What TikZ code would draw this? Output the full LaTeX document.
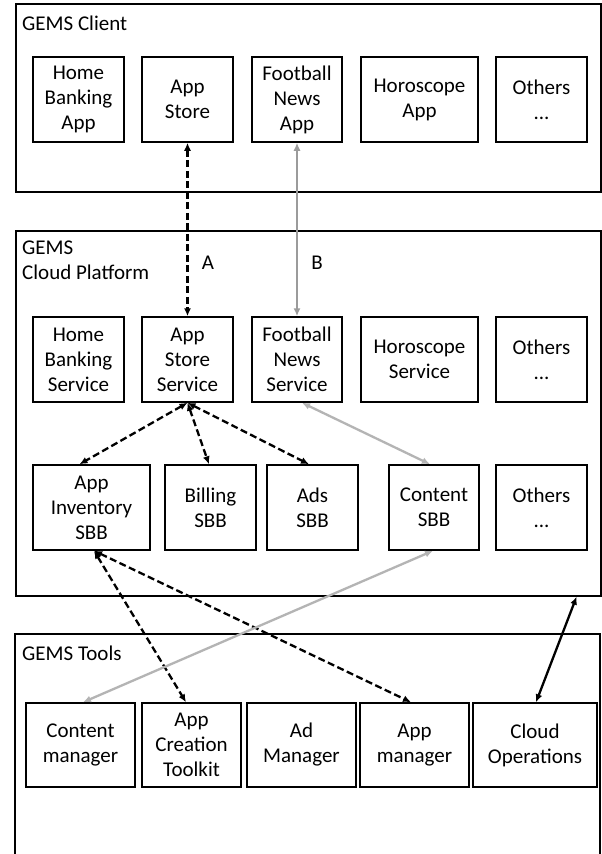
\documentclass[tikz,border=0pt]{standalone}
\usepackage{fontspec}
\setmainfont{Carlito}
\usetikzlibrary{arrows.meta,calc}
\definecolor{lgray}{RGB}{180,180,180}
\definecolor{mgray}{RGB}{155,155,155}
\begin{document}
\begin{tikzpicture}[x=1pt,y=-1pt,
  txt/.style={font=\fontsize{21}{25}\selectfont},
  box/.style={draw,line width=1.5pt,align=center,inner sep=0pt,txt},
  frame/.style={draw,line width=1.6pt,inner sep=0pt},
  dashconn/.style={line width=2.3pt,dash pattern=on 7pt off 3.5pt,{Latex[length=8pt,width=7pt]}-{Latex[length=8pt,width=7pt]}},
  grayconn/.style={line width=2.3pt,lgray,{Latex[length=8pt,width=7pt]}-{Latex[length=8pt,width=7pt]}},
  blackconn/.style={line width=2.3pt,{Latex[length=8pt,width=7pt]}-{Latex[length=8pt,width=7pt]}}]
\useasboundingbox (0,0) rectangle (602,854);
\fill[white] (0,0) rectangle (602,854);

% frames
\node[frame,anchor=north west,minimum width=585,minimum height=188] (client) at (15,3) {};
\node[frame,anchor=north west,minimum width=585,minimum height=365] (plat) at (15,230) {};
\draw[line width=1.6pt] (15,860) -- (15,634) -- (600,634) -- (600,860);

% titles
\node[txt,anchor=west,inner sep=0pt] (tclient) at (22,23) {GEMS Client};
\node[txt,anchor=west,align=left,inner sep=0pt] (tplat) at (22,260.5) {GEMS\\Cloud Platform};
\node[txt,anchor=west,inner sep=0pt] (ttools) at (22,653) {GEMS Tools};

% client apps
\node[box,minimum width=91,minimum height=85] (hba) at (78.5,99.5) {Home\\Banking\\App};
\node[box,minimum width=91,minimum height=85] (as) at (187.5,99.5) {App\\Store};
\node[box,minimum width=90,minimum height=85] (fna) at (297,99.5) {Football\\News\\App};
\node[box,minimum width=117,minimum height=85] (hor) at (419.5,99.5) {Horoscope\\App};
\node[box,minimum width=91,minimum height=85] (oth) at (541.5,99.5) {Others\\...};

% services
\node[box,minimum width=91,minimum height=85] (hbs) at (78.5,359.5) {Home\\Banking\\Service};
\node[box,minimum width=91,minimum height=85] (ass) at (187.5,359.5) {App\\Store\\Service};
\node[box,minimum width=90,minimum height=85] (fns) at (297,359.5) {Football\\News\\Service};
\node[box,minimum width=117,minimum height=85] (hos) at (419.5,359.5) {Horoscope\\Service};
\node[box,minimum width=91,minimum height=85] (oths) at (541.5,359.5) {Others\\...};

% SBBs
\node[box,minimum width=117,minimum height=85] (inv) at (91.5,507.5) {App\\Inventory\\SBB};
\node[box,minimum width=91,minimum height=85] (bil) at (210.5,507.5) {Billing\\SBB};
\node[box,minimum width=91,minimum height=85] (ads) at (312.5,507.5) {Ads\\SBB};
\node[box,minimum width=90,minimum height=85] (con) at (434,507.5) {Content\\SBB};
\node[box,minimum width=91,minimum height=85] (othb) at (541.5,507.5) {Others\\...};

% tools
\node[box,minimum width=109,minimum height=84] (cm) at (80.5,745) {Content\\manager};
\node[box,minimum width=99,minimum height=84] (act) at (191.5,745) {App\\Creation\\Toolkit};
\node[box,minimum width=109,minimum height=84] (adm) at (301.5,745) {Ad\\Manager};
\node[box,minimum width=109,minimum height=84] (apm) at (414.5,745) {App\\manager};
\node[box,minimum width=124,minimum height=84] (co) at (535,745) {Cloud\\Operations};

% labels
\node[txt,inner sep=0pt] (la) at (208,263) {A};
\node[txt,inner sep=0pt] (lb) at (317,263) {B};

% connectors
\draw[dashconn] (as.south) -- (ass.north);
\draw[grayconn,mgray] (fna.south) -- (fns.north);
\draw[dashconn] (ass.south) -- ($(inv.north)+(-12,0)$);
\draw[dashconn] (ass.south) -- ($(bil.north)+(-1.5,0)$);
\draw[dashconn] (ass.south) -- ($(ads.north)+(-3.5,0)$);
\draw[grayconn] ($(fns.south)+(5,0)$) -- ($(con.north)+(-4,0)$);
\draw[dashconn] ($(inv.south)+(2.5,0)$) -- ($(act.north)+(-5.5,0)$);
\draw[dashconn] ($(inv.south)+(2.5,0)$) -- ($(apm.north)+(-3.5,0)$);
\draw[grayconn] ($(con.south)+(-1,0)$) -- ($(cm.north)+(2.5,0)$);
\draw[blackconn] ($(plat.south east)+(-25,0)$) -- ($(co.north)+(1,0)$);
\end{tikzpicture}
\end{document}
